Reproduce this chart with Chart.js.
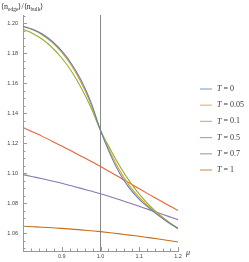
<!DOCTYPE html>
<html><head><meta charset="utf-8">
<script src="https://cdn.jsdelivr.net/npm/chart.js@4"></script>
<style>html,body{margin:0;padding:0;background:#fff;}#wrap{width:249px;height:262px;position:relative}</style>
</head><body><div id="wrap"><canvas id="c" width="249" height="262"></canvas></div>
<script>
// ---- data ----
const mu = [0.800,0.825,0.850,0.875,0.900,0.925,0.950,0.975,1.000,1.025,1.050,1.075,1.100,1.125,1.150,1.175,1.200];
const ratioT0   = [1.1980,1.1960,1.1928,1.1880,1.1815,1.1730,1.1620,1.1475,1.1285,1.1125,1.0995,1.0898,1.0825,1.0768,1.0716,1.0670,1.0630];
const ratioT005 = [1.1978,1.1956,1.1922,1.1872,1.1805,1.1718,1.1605,1.1462,1.1285,1.1140,1.1015,1.0915,1.0838,1.0777,1.0722,1.0673,1.0630];
const ratioT01  = [1.1960,1.1932,1.1893,1.1838,1.1768,1.1680,1.1570,1.1440,1.1285,1.1160,1.1045,1.0945,1.0860,1.0788,1.0728,1.0676,1.0630];
const ratioT05  = [1.1305,1.1275,1.1245,1.1213,1.1180,1.1147,1.1113,1.1079,1.1044,1.1007,1.0970,1.0933,1.0895,1.0858,1.0822,1.0786,1.0750];
const ratioT07  = [1.0990,1.0976,1.0962,1.0947,1.0932,1.0915,1.0898,1.0880,1.0862,1.0842,1.0822,1.0800,1.0778,1.0756,1.0733,1.0711,1.0689];
const ratioT1   = [1.0645,1.0642,1.0639,1.0635,1.0631,1.0626,1.0621,1.0615,1.0609,1.0602,1.0594,1.0586,1.0578,1.0569,1.0560,1.0550,1.0540];
const seriesLabels = ['0','0.05','0.1','0.5','0.7','1'];
const seriesValues = [ratioT0, ratioT005, ratioT01, ratioT05, ratioT07, ratioT1];
const seriesColors = ['#5E81B5','#E19C24','#8FB032','#EB6235','#8778B3','#C56E1A'];
const yTickValues = [1.06,1.08,1.10,1.12,1.14,1.16,1.18,1.20];
const yTickLabels = ['1.06','1.08','1.10','1.12','1.14','1.16','1.18','1.20'];
const xTickValues = [0.9,1.0,1.1,1.2];
const xTickLabels = ['0.9','1.0','1.1','1.2'];
const markerMu = 1.0;
const X_MIN = 0.8, X_MAX = 1.2, Y_MIN = 1.048, Y_MAX = 1.2055;

const datasets = seriesValues.map((vals, i) => ({
  label: 'T = ' + seriesLabels[i],
  data: mu.map((m, j) => ({x: m, y: vals[j]})),
  borderColor: seriesColors[i],
  borderWidth: 1.1,
  pointRadius: 0,
  fill: false,
  cubicInterpolationMode: 'monotone'
}));
datasets.push({
  label: 'marker',
  data: [{x: markerMu, y: Y_MIN}, {x: markerMu, y: Y_MAX}],
  borderColor: '#8a8a8a', borderWidth: 1, pointRadius: 0, fill: false
});

const deco = {
  id: 'deco',
  afterDraw(chart) {
    const ctx = chart.ctx, xs = chart.scales.x, ys = chart.scales.y, ca = chart.chartArea;
    ctx.save();
    ctx.strokeStyle = '#999';
    ctx.lineWidth = 1;
    for (let k = 0; ; k++) {
      const v = 1.05 + k * 0.005;
      if (v > Y_MAX + 1e-9) break;
      if (v < Y_MIN) continue;
      const major = Math.abs(Math.round(v / 0.02) * 0.02 - v) < 1e-6;
      const p = Math.round(ys.getPixelForValue(v)) + 0.5;
      ctx.beginPath(); ctx.moveTo(ca.left, p); ctx.lineTo(ca.left + (major ? 4 : 2.5), p); ctx.stroke();
    }
    for (let k = 0; ; k++) {
      const v = X_MIN + k * 0.02;
      if (v > X_MAX + 1e-9) break;
      const major = Math.abs(Math.round(v / 0.1) * 0.1 - v) < 1e-6;
      const p = Math.round(xs.getPixelForValue(v)) + 0.5;
      ctx.beginPath(); ctx.moveTo(p, ca.bottom); ctx.lineTo(p, ca.bottom - (major ? 4 : 2.5)); ctx.stroke();
    }
    ctx.fillStyle = '#333';
    ctx.textBaseline = 'alphabetic';
    let x = 1, yb = 9;
    const part = (t, f, dy) => { ctx.font = f; ctx.fillText(t, x, yb + (dy||0)); x += ctx.measureText(t).width; };
    const big = '8px "Liberation Serif"', sub = '5.5px "Liberation Serif"';
    part('\u27E8n', big); part('edge', sub, 2); part('\u27E9/\u27E8n', big); part('bulk', sub, 2); part('\u27E9', big);
    ctx.font = 'italic 8px "Liberation Serif"';
    ctx.fillText('\u03BC', ca.right + 8, ca.bottom + 4);
    const lx = 200, ly0 = 89, dy = 16.2;
    seriesLabels.forEach((lab, i) => {
      const yy = ly0 + i * dy;
      ctx.strokeStyle = seriesColors[i]; ctx.globalAlpha = 0.7; ctx.lineWidth = 1.2;
      ctx.beginPath(); ctx.moveTo(lx, yy); ctx.lineTo(lx + 12, yy); ctx.stroke();
      ctx.globalAlpha = 1;
      ctx.fillStyle = '#333'; ctx.textBaseline = 'middle';
      let tx = lx + 17;
      ctx.font = 'italic 8px "Liberation Serif"'; ctx.fillText('T', tx, yy); tx += ctx.measureText('T').width;
      ctx.font = '8px "Liberation Serif"'; ctx.fillText(' = ' + lab, tx, yy);
    });
    ctx.restore();
  }
};

new Chart(document.getElementById('c'), {
  type: 'line',
  data: { datasets },
  options: {
    responsive: false, animation: false, devicePixelRatio: 1,
    layout: { padding: { top: 15, right: 71, left: 0, bottom: 0 } },
    plugins: { legend: { display: false }, tooltip: { enabled: false } },
    scales: {
      x: {
        type: 'linear', min: X_MIN, max: X_MAX,
        afterFit(s) { s.height = 11; },
        afterBuildTicks(s) { s.ticks = xTickValues.map(v => ({value: v})); },
        grid: { display: false, drawTicks: false },
        border: { display: true, color: '#999', width: 1 },
        ticks: { padding: 2, color: '#444', font: { family: 'Liberation Sans', size: 5.5 }, maxRotation: 0,
          callback: (v) => { const i = xTickValues.findIndex(t => Math.abs(t - v) < 1e-6); return i >= 0 ? xTickLabels[i] : ''; } }
      },
      y: {
        type: 'linear', min: Y_MIN, max: Y_MAX,
        afterFit(s) { s.width = 23; },
        afterBuildTicks(s) { s.ticks = yTickValues.map(v => ({value: v})); },
        grid: { display: false, drawTicks: false },
        border: { display: true, color: '#999', width: 1 },
        ticks: { padding: 5, color: '#444', font: { family: 'Liberation Sans', size: 5.5 },
          callback: (v) => { const i = yTickValues.findIndex(t => Math.abs(t - v) < 1e-6); return i >= 0 ? yTickLabels[i] : ''; } }
      }
    }
  },
  plugins: [deco]
});
</script></body></html>
